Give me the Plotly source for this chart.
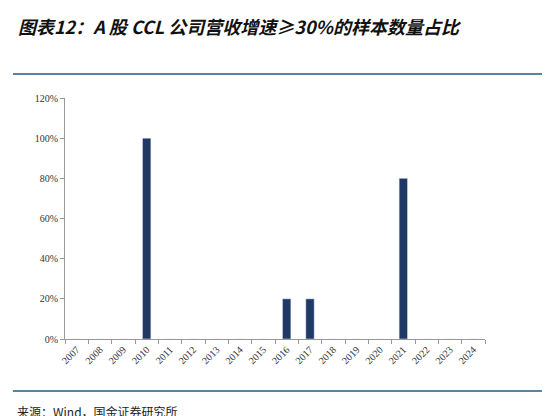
import plotly.graph_objects as go

years = [str(y) for y in range(2007, 2025)]
share = [0, 0, 0, 1.0, 0, 0, 0, 0, 0, 0.2, 0.2, 0, 0, 0, 0.8, 0, 0, 0]

fig = go.Figure(go.Bar(x=years, y=share, marker_color='#1f3864', width=0.36))

fig.update_layout(
    width=550, height=416,
    margin=dict(l=57, r=73, t=90, b=85),
    paper_bgcolor='white', plot_bgcolor='white',
    showlegend=False,
    font=dict(family='Liberation Serif', size=10, color='#333333'),
)
fig.update_xaxes(
    type='category', tickangle=-45, showline=True, linecolor='#999999', automargin=False,
    ticks='outside', ticklen=4, tickcolor='#999999', tickson='boundaries', showgrid=False,
)
fig.update_yaxes(
    range=[0, 1.2], dtick=0.2, tickformat='.0%', showline=True, linecolor='#999999',
    automargin=False, ticks='outside', ticklen=4, tickcolor='#999999',
    showgrid=False, zeroline=False,
)

# title, rules and source note
fig.add_annotation(
    text='<b><i>图表12：A 股 CCL 公司营收增速≥30%的样本数量占比</i></b>',
    xref='paper', yref='paper', x=-0.117, y=1.30, xanchor='left', yanchor='middle',
    showarrow=False, font=dict(family='Noto Sans CJK SC', size=18, color='#111111'),
)
fig.add_shape(type='line', xref='paper', yref='paper', x0=-0.124, x1=1.169,
              y0=1.1, y1=1.1, line=dict(color='#1f5c87', width=1.5))
fig.add_shape(type='line', xref='paper', yref='paper', x0=-0.124, x1=1.169,
              y0=-0.216, y1=-0.216, line=dict(color='#1f5c87', width=1.5))
fig.add_annotation(
    text='来源：Wind，国金证券研究所',
    xref='paper', yref='paper', x=-0.12, y=-0.299, xanchor='left', yanchor='middle',
    showarrow=False, font=dict(family='Noto Sans CJK SC', size=12, color='#222222'),
)

fig.write_html("out.html")
